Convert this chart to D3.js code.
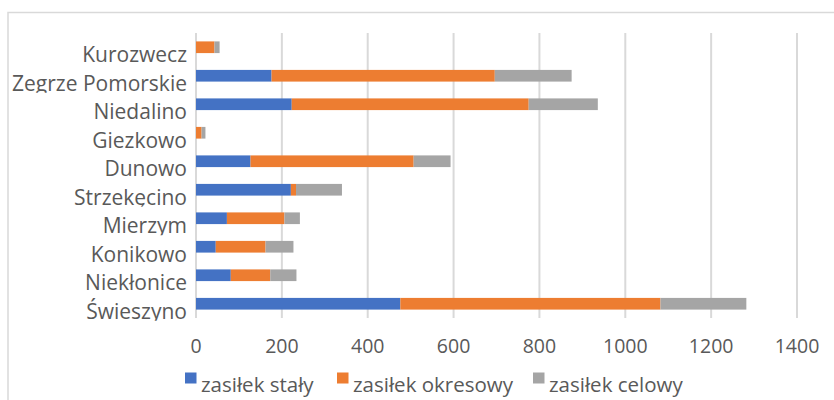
<!DOCTYPE html>
<html>
<head>
<meta charset="utf-8">
<script src="https://cdn.jsdelivr.net/npm/d3@7"></script>
<style>
	body { margin: 0; background: #fff; }
	svg { display: block; }
	text { font-family: "Open Sans", sans-serif; fill: #595959; }
</style>
</head>
<body>
<svg id="svg_main" width="834" height="400"></svg>
<script>
// data (top to bottom)
var categories = ["Kurozwecz", "Zegrze Pomorskie", "Niedalino", "Giezkowo", "Dunowo",
	"Strzekęcino", "Mierzym", "Konikowo", "Niekłonice", "Świeszyno"];
var staly     = [0, 176, 223, 0, 127, 221, 72, 46, 81, 476];
var okresowy  = [43, 520, 552, 13, 380, 12, 134, 116, 92, 606];
var celowy    = [12, 179, 161, 9, 86, 107, 36, 65, 61, 200];
var seriesNames = ["zasiłek stały", "zasiłek okresowy", "zasiłek celowy"];
var colors = ["#4472c4", "#ed7d31", "#a5a5a5"];
var xTicks = [0, 200, 400, 600, 800, 1000, 1200, 1400];

var svg = d3.select("#svg_main");

// chart frame (only top and left edges show)
svg.append("path")
	.attr("d", "M8,400 V12.5 H834")
	.attr("fill", "none")
	.attr("stroke", "#d9d9d9")
	.attr("stroke-width", 1.5);

var plot = { top: 33, bottom: 318, left: 195.5, right: 796.5 };

var x = d3.scaleLinear().domain([0, 1400]).range([plot.left, plot.right]);
var y = d3.scaleBand().domain(categories)
	.range([plot.top, plot.bottom])
	.paddingInner(0.59)
	.paddingOuter(0.295);

// gridlines
var grid = svg.append("g")
	.attr("class", "grid")
	.attr("transform", `translate(0, ${plot.bottom})`)
	.call(d3.axisBottom(x).tickValues(xTicks).tickSize(-(plot.bottom - plot.top)).tickFormat(""));
grid.select(".domain").remove();
grid.selectAll(".tick line").attr("stroke", "#d9d9d9").attr("stroke-width", 2);

// tick labels
var xAxis = svg.append("g")
	.attr("class", "xAxis")
	.attr("transform", `translate(0, 336)`)
	.call(d3.axisBottom(x).tickValues(xTicks).tickSize(0).tickFormat(d3.format("d")));
xAxis.select(".domain").remove();
xAxis.selectAll(".tick text")
	.attr("font-size", "19.5px")
	.attr("fill", "#595959");

// stacked bars
var rows = categories.map((c, i) => ({ cat: c, s0: staly[i], s1: okresowy[i], s2: celowy[i] }));
var stack = d3.stack().keys(["s0", "s1", "s2"])(rows);

svg.append("g").selectAll("g")
	.data(stack)
	.enter().append("g")
	.attr("fill", (d, i) => colors[i])
	.selectAll("rect")
	.data(d => d)
	.enter().append("rect")
	.attr("x", d => x(d[0]) + 0.5)
	.attr("width", d => Math.max(0, x(d[1]) - x(d[0])))
	.attr("y", d => y(d.data.cat))
	.attr("height", y.bandwidth());

// category labels (descenders get cut off like in the source)
var defs = svg.append("defs");
var labels = svg.append("g").attr("class", "labels");
categories.forEach((c, i) => {
	let base = y(c) + y.bandwidth() / 2 + 15;
	defs.append("clipPath")
		.attr("id", `clip${i}`)
		.append("rect")
		.attr("x", 0)
		.attr("y", base - 30)
		.attr("width", 260)
		.attr("height", 32);
	labels.append("text")
		.attr("x", 187)
		.attr("y", base)
		.attr("text-anchor", "end")
		.attr("font-size", "21px")
		.attr("clip-path", `url(#clip${i})`)
		.text(c);
});

// legend
var legendX = [185, 337, 533];
var legend = svg.append("g").attr("class", "legend");
seriesNames.forEach((s, i) => {
	legend.append("rect")
		.attr("x", legendX[i])
		.attr("y", 372.5)
		.attr("width", 11.5)
		.attr("height", 11)
		.attr("fill", colors[i]);
	legend.append("text")
		.attr("x", legendX[i] + 16)
		.attr("y", 392)
		.attr("font-size", "20.5px")
		.text(s);
});
</script>
</body>
</html>
